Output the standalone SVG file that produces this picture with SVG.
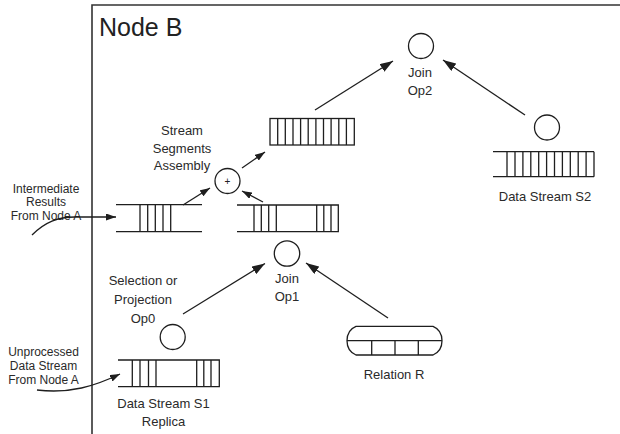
<svg xmlns="http://www.w3.org/2000/svg" width="620" height="434" viewBox="0 0 620 434">
<defs>
<style>
.ln{fill:none;stroke:#1e1e1e;stroke-width:1.3}
.sh{fill:none;stroke:#1e1e1e;stroke-width:1.3}
.t{font-family:"Liberation Sans",Arial,sans-serif;font-size:13px;fill:#2a2a2a;text-anchor:middle}
.ts{font-family:"Liberation Sans",Arial,sans-serif;font-size:12px;fill:#2a2a2a;text-anchor:middle}
</style>
<marker id="big" viewBox="0 0 13 9" refX="13" refY="4.5" markerWidth="13" markerHeight="9" markerUnits="userSpaceOnUse" orient="auto"><path d="M0,0 L13,4.5 L0,9 Z" fill="#1e1e1e"/></marker>
<marker id="sm" viewBox="0 0 10 7" refX="10" refY="3.5" markerWidth="10" markerHeight="7" markerUnits="userSpaceOnUse" orient="auto"><path d="M0,0 L10,3.5 L0,7 Z" fill="#1e1e1e"/></marker>
</defs>
<rect width="620" height="434" fill="#fff"/>

<g id="nodeB">
<path d="M92,440 L92,5 L625,5" fill="none" stroke="#333" stroke-width="1.6"/>
<text x="99" y="36" font-family="'Liberation Sans',Arial,sans-serif" font-size="25" fill="#222">Node B</text>
</g>

<g id="joinOp2">
<circle cx="421" cy="46" r="12.5" class="sh"/>
<text class="t" x="420" y="77">Join</text>
<text class="t" x="420" y="95">Op2</text>
</g>

<g id="upperQueue">
<rect x="270" y="118.5" width="84.3" height="26.5" class="sh"/>
<path class="sh" d="M277.7,118.5v26.5M285.3,118.5v26.5M293,118.5v26.5M300.6,118.5v26.5M308.2,118.5v26.5M315.9,118.5v26.5M323.5,118.5v26.5M331.1,118.5v26.5M338.8,118.5v26.5M346.4,118.5v26.5"/>
</g>

<g id="dataStreamS2">
<circle cx="547" cy="127.5" r="12.5" class="sh"/>
<path class="sh" d="M493,151.7H594M493,176.7H594M507,151.7v25M515,151.7v25M522.9,151.7v25M530.8,151.7v25M538.7,151.7v25M546.6,151.7v25M554.5,151.7v25M562.4,151.7v25M570.3,151.7v25M578.2,151.7v25M586.1,151.7v25M594,151.7v25"/>
<text class="t" x="545" y="201">Data Stream S2</text>
</g>

<g id="assembly">
<circle cx="227.5" cy="181" r="12.5" class="sh"/>
<text x="227.5" y="184.5" font-family="'Liberation Sans',Arial,sans-serif" font-size="10" fill="#222" text-anchor="middle">+</text>
<text class="t" x="182" y="135">Stream</text>
<text class="t" x="182" y="152.5">Segments</text>
<text class="t" x="182" y="170">Assembly</text>
</g>

<g id="leftQueue">
<path class="sh" d="M116,204.7H202M116,231.7H202M140,204.7v27M147.7,204.7v27M155.3,204.7v27M163,204.7v27M170.7,204.7v27"/>
</g>

<g id="rightQueue">
<path class="sh" d="M237,205H338.3V231.7H237M254,205v26.7M261.3,205v26.7M268.7,205v26.7M276.3,205v26.7M316.7,205v26.7M323.8,205v26.7M331,205v26.7"/>
</g>

<g id="intermediateLabel">
<text class="ts" x="46" y="193">Intermediate</text>
<text class="ts" x="46" y="206">Results</text>
<text class="ts" x="46" y="219.5">From Node A</text>
</g>

<g id="joinOp1">
<circle cx="287" cy="253.5" r="12.7" class="sh"/>
<text class="t" x="287" y="282.6">Join</text>
<text class="t" x="287" y="301">Op1</text>
</g>

<g id="op0">
<circle cx="172.7" cy="337" r="12.5" class="sh"/>
<text class="t" x="143" y="285.3">Selection or</text>
<text class="t" x="143" y="304.3">Projection</text>
<text class="t" x="143" y="322.7">Op0</text>
</g>

<g id="relationR">
<path class="sh" d="M356,326.3H433Q442,330 442,340.7Q442,351 433,355H356Q347,351 347,340.7Q347,330 356,326.3Z"/>
<path class="sh" d="M347,340.7H442M371.7,340.7V355M395,340.7V355M418.3,340.7V355"/>
<text class="t" x="394" y="378.6">Relation R</text>
</g>

<g id="dataStreamS1">
<path class="sh" d="M118,360H219.3V386.7H118M132.3,360v26.7M140,360v26.7M148.5,360v26.7M156,360v26.7M196.7,360v26.7M203.8,360v26.7M211,360v26.7"/>
<text class="t" x="163.5" y="407.6">Data Stream S1</text>
<text class="t" x="163.5" y="426">Replica</text>
</g>

<g id="unprocessedLabel">
<text class="ts" x="43.5" y="356.3">Unprocessed</text>
<text class="ts" x="43.5" y="370.3">Data Stream</text>
<text class="ts" x="43.5" y="384.3">From Node A</text>
</g>

<g id="connectors">
<line class="ln" x1="315" y1="110" x2="393" y2="61" marker-end="url(#big)"/>
<line class="ln" x1="525" y1="115" x2="443" y2="60" marker-end="url(#big)"/>
<line class="ln" x1="183" y1="205" x2="210" y2="188" marker-end="url(#sm)"/>
<line class="ln" x1="263" y1="202" x2="242" y2="191" marker-end="url(#sm)"/>
<line class="ln" x1="242" y1="168" x2="265" y2="152" marker-end="url(#sm)"/>
<line class="ln" x1="183" y1="314" x2="265" y2="263.5" marker-end="url(#big)"/>
<line class="ln" x1="388" y1="318" x2="306" y2="263" marker-end="url(#big)"/>
<path class="ln" d="M32,235 C45,222 58,217 75,217 L116,217" marker-end="url(#sm)"/>
<path class="ln" d="M37,390 C70,394 95,386 120,374" marker-end="url(#sm)"/>
</g>
</svg>
